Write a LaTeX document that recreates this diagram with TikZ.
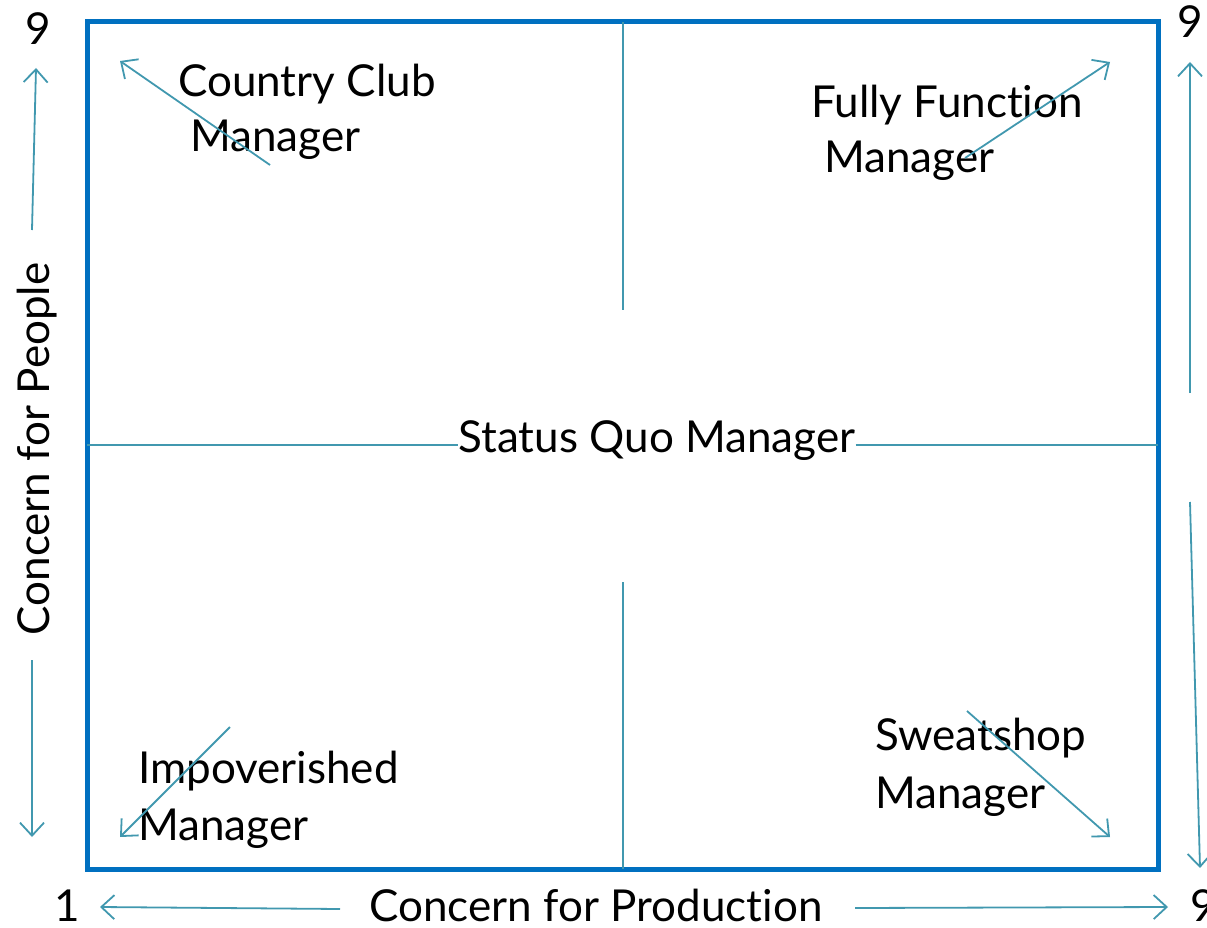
\documentclass[tikz,border=0pt]{standalone}
\usepackage{fontspec}
\setmainfont{Lato}[Ligatures={NoCommon,NoRare,NoContextual}]
\usetikzlibrary{arrows.meta}
\definecolor{frameblue}{RGB}{0,112,192}
\definecolor{teal}{RGB}{65,152,175}
\tikzset{
  lbl/.style={inner sep=0pt, anchor=base west, font=\fontsize{44}{52}\selectfont, text=black},
  divider/.style={draw=teal, line width=1.6pt},
  arr/.style={draw=teal, line width=1.8pt, -{Straight Barb[length=13pt,width=24pt,line width=1.8pt]}},
}
\begin{document}
\begin{tikzpicture}[x=1pt,y=-1pt]
\useasboundingbox (0,0) rectangle (1207,928);
% frame
\draw[frameblue, line width=5pt] (87,22) rectangle (1158,869);
% labels
\node[lbl] (cc1) at (178,97) {Country Club};
\node[lbl] (cc2) at (190,152) {Manager};
\node[lbl] (ff1) at (811,118) {Fully Funct\kern0pt ion};
\node[lbl] (ff2) at (824,173) {Manager};
\node[lbl, anchor=base] (sq) at (657,452) {Status Quo Manager};
\node[lbl] (im1) at (138,783) {Impoverished};
\node[lbl] (im2) at (138,840) {Manager};
\node[lbl] (sw1) at (875,750) {Sweatshop};
\node[lbl] (sw2) at (875,808) {Manager};
\node[lbl, anchor=base] (prod) at (596,921) {Concern for Product\kern0pt ion};
\node[lbl, anchor=base, rotate=90] (ppl) at (49,449) {Concern for People};
\node[lbl, anchor=base] (n9tl) at (38,45) {9};
\node[lbl, anchor=base] (n9tr) at (1190,38) {9};
\node[lbl, anchor=base] (n1) at (67,921) {1};
\node[lbl, anchor=base] (n9br) at (1203,921) {9};
% dividers
\coordinate (vt1) at (623,22); \coordinate (vt2) at (623,310);
\coordinate (vb1) at (623,582); \coordinate (vb2) at (623,869);
\coordinate (hl1) at (87,445); \coordinate (hr2) at (1158,445);
\draw[divider] (vt1) -- (vt2);
\draw[divider] (vb1) -- (vb2);
\draw[divider] (hl1) -- (sq.west |- hl1);
\draw[divider] (sq.east |- hr2) -- (hr2);
% diagonal arrows
\coordinate (a1s) at (270,165); \coordinate (a1e) at (120,61);
\coordinate (a2s) at (965,158); \coordinate (a2e) at (1110,62);
\coordinate (a3s) at (230,727); \coordinate (a3e) at (120,837);
\coordinate (a4s) at (967,711); \coordinate (a4e) at (1110,837);
\draw[arr] (a1s) -- (a1e);
\draw[arr] (a2s) -- (a2e);
\draw[arr] (a3s) -- (a3e);
\draw[arr] (a4s) -- (a4e);
% axis arrows
\coordinate (lu1) at (32,230); \coordinate (lu2) at (36,68);
\coordinate (ld1) at (32,660); \coordinate (ld2) at (32,837);
\coordinate (ru1) at (1190,393); \coordinate (ru2) at (1190,62);
\coordinate (rd1) at (1190,502); \coordinate (rd2) at (1200,868);
\coordinate (bl1) at (340,909); \coordinate (bl2) at (100,907);
\coordinate (br1) at (855,908); \coordinate (br2) at (1168,907);
\draw[arr] (lu1) -- (lu2);
\draw[arr] (ld1) -- (ld2);
\draw[arr] (ru1) -- (ru2);
\draw[arr] (rd1) -- (rd2);
\draw[arr] (bl1) -- (bl2);
\draw[arr] (br1) -- (br2);
\end{tikzpicture}
\end{document}
